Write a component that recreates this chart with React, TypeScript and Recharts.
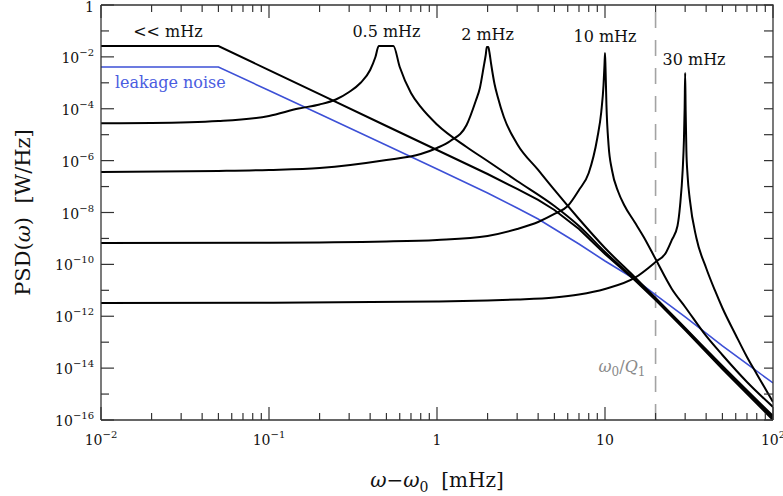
import React from 'react';
import { LineChart, Line, XAxis, YAxis, ReferenceLine, ReferenceDot } from 'recharts';

// ω-ω0 in mHz, PSD in W/Hz
const lowFreqX = [0.01, 0.05, 0.1, 0.2, 0.5, 1, 2, 3, 4, 5, 7, 10, 15, 20, 30, 50, 100];
const lowFreqPsd = [2.62e-2, 2.62e-2, 3.07e-3, 3.64e-4, 2.16e-5, 2.57e-6, 3.05e-7, 8.07e-8, 3.04e-8, 1.25e-8, 2.32e-9, 2.52e-10, 2.5e-11, 4.25e-12, 2.96e-13, 9.29e-15, 1e-16];

const peak05X = [0.01, 0.02, 0.05, 0.1, 0.15, 0.2, 0.25, 0.3, 0.35, 0.4, 0.43, 0.45, 0.55, 0.6, 0.7, 0.8, 1, 1.5, 2, 3, 5, 7, 10, 15, 20, 30, 50, 100];
const peak05Psd = [2.75e-5, 2.83e-5, 3.37e-5, 5.26e-5, 1.02e-4, 1.46e-4, 2.28e-4, 4.43e-4, 9.84e-4, 3.12e-3, 9.89e-3, 2.62e-2, 2.62e-2, 4.07e-3, 4.06e-4, 1.17e-4, 2.47e-5, 3.36e-6, 9.68e-7, 1.64e-7, 1.78e-8, 3.02e-9, 3.01e-10, 2.74e-11, 4.64e-12, 3.24e-13, 1.11e-14, 1.2e-16];

const peak2X = [0.01, 0.05, 0.1, 0.2, 0.5, 0.8, 1, 1.2, 1.5, 1.7, 1.8, 1.9, 1.95, 1.98, 2.02, 2.05, 2.1, 2.2, 2.3, 2.5, 3, 4, 5, 7, 10, 15, 20, 30, 50, 100];
const peak2Psd = [3.65e-7, 3.99e-7, 4.36e-7, 5.2e-7, 1.06e-6, 1.8e-6, 3.07e-6, 5.71e-6, 2.37e-5, 1.99e-4, 6.31e-4, 4.45e-3, 1.18e-2, 2.4e-2, 2.4e-2, 1.54e-2, 5.32e-3, 9.01e-4, 2.84e-4, 4.81e-5, 4.38e-6, 4.36e-7, 7.38e-8, 5.62e-9, 4.29e-10, 3.27e-11, 5.07e-12, 3.53e-13, 1.21e-14, 1.43e-16];

const peak10X = [0.01, 0.1, 0.5, 1, 2, 3, 4, 5, 6, 7, 8, 9, 9.5, 9.8, 9.93, 10, 10.07, 10.2, 10.5, 11, 12, 13, 15, 17, 20, 25, 30, 40, 50, 70, 100];
const peak10Psd = [6.68e-10, 6.87e-10, 7.64e-10, 8.73e-10, 1.25e-9, 2.32e-9, 4.32e-9, 8.77e-9, 1.78e-8, 7.38e-8, 3.34e-7, 7.46e-6, 7.5e-5, 8.24e-4, 4.86e-3, 1.41e-2, 3.72e-3, 1.4e-4, 4.01e-6, 4.36e-7, 6.18e-8, 1.95e-8, 4.32e-9, 1.14e-9, 1.61e-10, 1.13e-11, 2.28e-12, 1.74e-13, 3.21e-14, 2.92e-15, 3.18e-16];

const peak30X = [0.01, 0.1, 1, 2, 3, 5, 7, 10, 15, 20, 23, 25, 27, 28, 29, 29.5, 29.8, 30, 30.2, 30.5, 31, 32, 35, 40, 45, 50, 60, 70, 80, 100];
const peak30Psd = [3.25e-12, 3.34e-12, 3.71e-12, 4.06e-12, 4.43e-12, 5.3e-12, 6.92e-12, 1.13e-11, 2.99e-11, 1.24e-10, 2.75e-10, 8.73e-10, 3.02e-9, 1.95e-8, 4.36e-7, 6.25e-6, 1.17e-4, 2.39e-3, 8.95e-5, 2.57e-6, 2.79e-7, 3.04e-8, 1.04e-9, 7.27e-11, 1.03e-11, 2.08e-12, 1.9e-13, 2.69e-14, 5.96e-15, 4.96e-16];

const leakageX = [0.01, 0.05, 0.1, 0.2, 0.5, 1, 2, 3, 4, 5, 7, 10, 15, 20, 30, 50, 70, 100];
const leakagePsd = [4.07e-3, 4.07e-3, 5.06e-4, 6.23e-5, 3.94e-6, 4.76e-7, 5.66e-8, 1.49e-8, 5.62e-9, 2.32e-9, 6.11e-10, 1.35e-10, 2.74e-11, 6.61e-12, 9.38e-13, 7.15e-14, 1.45e-14, 2.68e-15];

const xTicks = [
  0.01, 0.02, 0.03, 0.04, 0.05, 0.06, 0.07, 0.08, 0.09,
  0.1, 0.2, 0.3, 0.4, 0.5, 0.6, 0.7, 0.8, 0.9,
  1, 2, 3, 4, 5, 6, 7, 8, 9,
  10, 20, 30, 40, 50, 60, 70, 80, 90, 100,
];
const yTicks = [1, 1e-1, 1e-2, 1e-3, 1e-4, 1e-5, 1e-6, 1e-7, 1e-8, 1e-9, 1e-10, 1e-11, 1e-12, 1e-13, 1e-14, 1e-15, 1e-16];

const peakLabels = ['<< mHz', '0.5 mHz', '2 mHz', '10 mHz', '30 mHz'];
const peakLabelX = [0.025, 0.5, 2, 10, 22];
const peakLabelY = [0.061, 0.06, 0.0448, 0.0385, 0.00486];

const Q1_CUTOFF = 20;
const X_MIN = 0.01;
const X_MAX = 100;
const Y_MIN = 1e-16;
const Y_MAX = 1;

const FONT = '"DejaVu Serif", serif';
const FRAME = '#333';

// layout: plot box spans x 101..773, y 5..420
const W = 783;
const H = 496;
const MARGIN = { top: 5, right: 10, bottom: 0, left: 0 };
const Y_AXIS_W = 101;
const X_AXIS_H = 76;
const PLOT_X = MARGIN.left + Y_AXIS_W;
const PLOT_Y = MARGIN.top;
const PLOT_W = W - MARGIN.left - MARGIN.right - Y_AXIS_W;
const PLOT_H = H - MARGIN.top - MARGIN.bottom - X_AXIS_H;

const rows = (xs: number[], ys: number[]) => xs.map((x, i) => ({ x, psd: ys[i] }));

const exponent = (v: number) => Math.round(Math.log10(v));
const isDecade = (v: number) => Math.abs(Math.log10(v) - exponent(v)) < 1e-6;

const PowerText = ({ x, y, e, anchor }: any) => {
  if (e === 0) return <text x={x} y={y} textAnchor={anchor} fontFamily={FONT} fontSize={14} fill="#111">1</text>;
  if (e === 1) return <text x={x} y={y} textAnchor={anchor} fontFamily={FONT} fontSize={14} fill="#111">10</text>;
  return (
    <text x={x} y={y} textAnchor={anchor} fontFamily={FONT} fontSize={14} fill="#111">
      <tspan>10</tspan>
      <tspan dy={-7} fontSize={10}>{e < 0 ? `\u2212${-e}` : `${e}`}</tspan>
    </text>
  );
};

const BottomTick = (props: any) => {
  const x = Number(props.x);
  const y = Number(props.y);
  const major = isDecade(props.payload.value);
  return (
    <g>
      <line x1={x} x2={x} y1={y} y2={y - (major ? 13 : 7)} stroke={FRAME} strokeWidth={1.2} />
      {major && <PowerText x={x} y={y + 25} e={exponent(props.payload.value)} anchor="middle" />}
    </g>
  );
};

const LeftTick = (props: any) => {
  const x = Number(props.x);
  const y = Number(props.y);
  const e = exponent(props.payload.value);
  const major = e % 2 === 0;
  return (
    <g>
      <line x1={x} x2={x + (major ? 13 : 8)} y1={y} y2={y} stroke={FRAME} strokeWidth={1.2} />
      {major && <PowerText x={x - 7} y={y + (e === 0 ? 7 : 6)} e={e} anchor="end" />}
    </g>
  );
};

const XTitle = ({ viewBox }: any) => {
  const vb = viewBox || { x: PLOT_X, y: PLOT_Y + PLOT_H, width: PLOT_W, height: X_AXIS_H };
  return (
    <text x={vb.x + vb.width / 2} y={vb.y + 67} textAnchor="middle" fontFamily={FONT} fontSize={20} fill="#111">
      <tspan fontStyle="italic">ω</tspan>
      <tspan>−</tspan>
      <tspan fontStyle="italic">ω</tspan>
      <tspan dy={5} fontSize={14}>0</tspan>
      <tspan dy={-5}>{'\u00a0\u00a0[mHz]'}</tspan>
    </text>
  );
};

const YTitle = ({ viewBox }: any) => {
  const vb = viewBox || { x: 0, y: PLOT_Y, width: Y_AXIS_W, height: PLOT_H };
  const cx = vb.x + 30;
  const cy = vb.y + vb.height / 2;
  return (
    <text x={cx} y={cy} transform={`rotate(-90 ${cx} ${cy})`} textAnchor="middle" fontFamily={FONT} fontSize={21} fill="#111">
      <tspan>PSD(</tspan>
      <tspan fontStyle="italic">ω</tspan>
      <tspan>{')\u00a0\u00a0[W/Hz]'}</tspan>
    </text>
  );
};

const TextAt = (text: string, anchor: string, color: string) => (p: any) => (
  <text x={p.cx} y={p.cy} textAnchor={anchor} fontFamily={FONT} fontSize={16} fill={color}>
    {text}
  </text>
);

const CutoffLabel = (p: any) => (
  <text x={p.cx} y={p.cy} textAnchor="end" fontFamily={FONT} fontSize={16} fill="#8a8a8a">
    <tspan fontStyle="italic">ω</tspan>
    <tspan dy={4} fontSize={12}>0</tspan>
    <tspan dy={-4}>/</tspan>
    <tspan fontStyle="italic">Q</tspan>
    <tspan dy={4} fontSize={12}>1</tspan>
  </text>
);

// top/right edges of the box with mirrored ticks, laid over the chart
const frameX = (v: number) => PLOT_X + (PLOT_W * (Math.log10(v) - Math.log10(X_MIN))) / (Math.log10(X_MAX) - Math.log10(X_MIN));
const frameY = (v: number) => PLOT_Y + (PLOT_H * (Math.log10(Y_MAX) - Math.log10(v))) / (Math.log10(Y_MAX) - Math.log10(Y_MIN));

const FrameOverlay = () => (
  <svg width={W} height={H} style={{ position: 'absolute', left: 0, top: 0, pointerEvents: 'none' }}>
    <path
      d={`M${PLOT_X},${PLOT_Y}H${PLOT_X + PLOT_W}V${PLOT_Y + PLOT_H}`}
      stroke={FRAME}
      strokeWidth={1.3}
      fill="none"
    />
    {xTicks.map((t) => (
      <line key={`t${t}`} x1={frameX(t)} x2={frameX(t)} y1={PLOT_Y} y2={PLOT_Y + (isDecade(t) ? 13 : 7)} stroke={FRAME} strokeWidth={1.2} />
    ))}
    {yTicks.map((t) => (
      <line key={`r${t}`} x1={PLOT_X + PLOT_W} x2={PLOT_X + PLOT_W - 9} y1={frameY(t)} y2={frameY(t)} stroke={FRAME} strokeWidth={1.2} />
    ))}
  </svg>
);

const blackCurves = [
  { id: 'low', xs: lowFreqX, ys: lowFreqPsd, type: 'linear' },
  { id: 'p05', xs: peak05X, ys: peak05Psd, type: 'monotone' },
  { id: 'p2', xs: peak2X, ys: peak2Psd, type: 'monotone' },
  { id: 'p10', xs: peak10X, ys: peak10Psd, type: 'monotone' },
  { id: 'p30', xs: peak30X, ys: peak30Psd, type: 'monotone' },
];

export default function App() {
  return (
    <div style={{ position: 'absolute', left: 0, top: 0, width: W, height: H, background: '#fff' }}>
      <LineChart width={W} height={H} margin={MARGIN}>
        <XAxis
          dataKey="x"
          type="number"
          scale="log"
          domain={[X_MIN, X_MAX]}
          allowDataOverflow
          ticks={xTicks}
          interval={0}
          tickSize={0}
          tickMargin={0}
          tickLine={false}
          axisLine={{ stroke: FRAME, strokeWidth: 1.3 }}
          tick={(p: any) => <BottomTick {...p} />}
          height={X_AXIS_H}
          label={(p: any) => <XTitle {...p} />}
        />
        <YAxis
          type="number"
          scale="log"
          domain={[Y_MIN, Y_MAX]}
          allowDataOverflow
          ticks={yTicks}
          interval={0}
          tickSize={0}
          tickMargin={0}
          tickLine={false}
          axisLine={{ stroke: FRAME, strokeWidth: 1.3 }}
          tick={(p: any) => <LeftTick {...p} />}
          width={Y_AXIS_W}
          label={(p: any) => <YTitle {...p} />}
        />
        <ReferenceLine x={Q1_CUTOFF} stroke="#a3a3a3" strokeWidth={1.6} strokeDasharray="16 12" />
        <Line
          data={rows(leakageX, leakagePsd)}
          dataKey="psd"
          type="linear"
          stroke="#3d50d6"
          strokeWidth={1.6}
          dot={false}
          isAnimationActive={false}
        />
        {blackCurves.map((c) => (
          <Line
            key={c.id}
            data={rows(c.xs, c.ys)}
            dataKey="psd"
            type={c.type as any}
            stroke="#000"
            strokeWidth={2}
            dot={false}
            isAnimationActive={false}
          />
        ))}
        {peakLabels.map((t, i) => (
          <ReferenceDot
            key={t}
            x={peakLabelX[i]}
            y={peakLabelY[i]}
            r={1}
            shape={TextAt(t, i === 4 ? 'start' : 'middle', '#111')}
          />
        ))}
        <ReferenceDot x={0.0121} y={6.3e-4} r={1} shape={TextAt('leakage noise', 'start', '#4a5ce0')} />
        <ReferenceDot x={17.4} y={7.1e-15} r={1} shape={CutoffLabel} />
      </LineChart>
      <FrameOverlay />
    </div>
  );
}
